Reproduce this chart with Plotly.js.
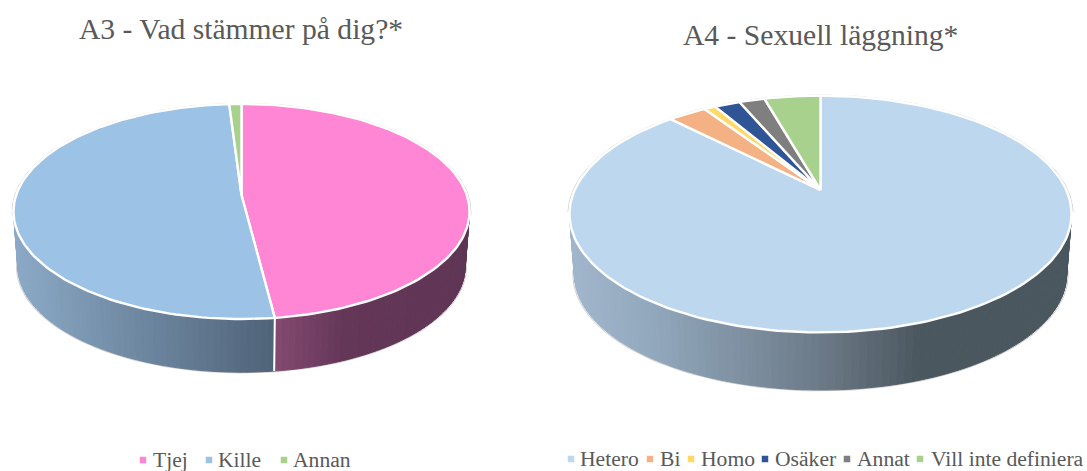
<!DOCTYPE html>
<html><head><meta charset="utf-8">
<script src="https://cdn.plot.ly/plotly-3.0.1.min.js"></script>
<style>html,body{margin:0;padding:0;background:#fff;overflow:hidden}#c{width:1087px;height:471px}</style>
</head><body><div id="c"></div>
<script>
// ---- data (percent, clockwise from 12 o'clock) ----
const a3Categories = ['Tjej','Kille','Annan'];
const a3Values     = [48, 51, 1];
const a3Colors     = ['#FF85D5','#9CC2E5','#A9D18E'];
const a4Categories = ['Hetero','Bi','Homo','Osäker','Annat','Vill inte definiera'];
const a4Values     = [87.7, 3.0, 0.9, 2.0, 2.0, 4.4];
const a4Colors     = ['#BDD7EE','#F4B183','#FFD966','#2F5597','#7F7F7F','#A9D18E'];
const a3Title = 'A3 - Vad stämmer på dig?*';
const a4Title = 'A4 - Sexuell läggning*';

// ---- layout / styling ----
const a3Top = {cx:241.5, y0:195,   a:225.3, b:105,   k:0.1535};
const a3Bot = {cx:241.5, y0:250.5, a:221,   b:103,   k:0.1535};
const a4Top = {cx:820.5, y0:190,   a:245.8, b:113.5, k:0.203};
const a4Bot = {cx:820.5, y0:251,   a:241,   b:110.8, k:0.203};
const a3Walls = {
  0:[[275,'#844a70'],[345,'#643658'],[470,'#5f3555']],
  1:[[14,'#8ba9c6'],[274,'#4f6378']]
};
const a4Walls = {
  0:[[570,'#a1b6cc'],[650,'#92a8bd'],[820,'#6c7a88'],[920,'#4b575f'],[1072,'#4b575f']]
};
const a3MarkerX = [143,209,284];
const a3TextX   = [153,218,293];
const a4MarkerX = [571,650,691,765,847,920];
const a4TextX   = [580,660,701,775,857,931];
const legendY = [460,459];
const serif = '"Liberation Serif","Times New Roman",serif';
const grey = '#595959';

function pt(g,t){const X=Math.sin(t),Y=Math.cos(t),w=1+g.k*Y;
  return [g.cx+g.a*X/w, g.y0-g.b*Y/w];}
function hex(c){return [1,3,5].map(i=>parseInt(c.substr(i,2),16));}
function colorAt(stops,x){
  if(x<=stops[0][0])return stops[0][1];
  for(let i=1;i<stops.length;i++){ if(x<=stops[i][0]){
    const f=(x-stops[i-1][0])/(stops[i][0]-stops[i-1][0]);
    const a=hex(stops[i-1][1]),b=hex(stops[i][1]);
    return 'rgb('+a.map((v,j)=>Math.round(v+(b[j]-v)*f)).join(',')+')';}}
  return stops[stops.length-1][1];
}
function arc(g,t0,t1,n){const o=[];for(let i=0;i<=n;i++)o.push(pt(g,t0+(t1-t0)*i/n));return o;}
function outlineEllipse(g,f,t0,t1){
  const G={cx:g.cx,y0:g.y0,a:g.a*f,b:g.b*f,k:g.k};
  const p=arc(G,t0,t1,180);
  return {type:'scatter',mode:'lines',x:p.map(q=>q[0]),y:p.map(q=>q[1]),
    line:{color:'#cfcfcf',width:1},hoverinfo:'skip',showlegend:false};
}
function pie(values,colors,cats,top,bot,walls){
  const out=[],tot=values.reduce((a,b)=>a+b,0);
  out.push(outlineEllipse(bot,1.006,0,2*Math.PI));
  let c=0;const spans=values.map(v=>{const s=[c/tot*2*Math.PI,(c+v)/tot*2*Math.PI];c+=v;return s;});
  spans.forEach((s,i)=>{
    if(!walls[i])return;
    const n=Math.max(4,Math.round((s[1]-s[0])/(Math.PI/120)));
    for(let j=0;j<n;j++){
      const t0=s[0]+(s[1]-s[0])*j/n,t1=s[0]+(s[1]-s[0])*(j+1)/n;
      if(Math.cos((t0+t1)/2)>0.25)continue;
      const A=pt(top,t0),B=pt(top,t1),C=pt(bot,t1),D=pt(bot,t0);
      const col=colorAt(walls[i],(A[0]+B[0])/2);
      out.push({type:'scatter',mode:'lines',fill:'toself',fillcolor:col,
        x:[A[0],B[0],C[0],D[0],A[0]],y:[A[1],B[1],C[1],D[1],A[1]],
        line:{color:col,width:1},hoverinfo:'skip',showlegend:false});
    }
  });
  spans.forEach(s=>{
    const t=s[0];
    if(Math.cos(t)<-0.3){const A=pt(top,t),D=pt(bot,t);
      out.push({type:'scatter',mode:'lines',x:[A[0],D[0]],y:[A[1],D[1]],
        line:{color:'#fff',width:2},hoverinfo:'skip',showlegend:false});}
  });
  out.push(outlineEllipse(top,1.006,-Math.PI*0.56,Math.PI*0.56));
  spans.forEach((s,i)=>{
    const p=[[top.cx,top.y0]].concat(arc(top,s[0],s[1],Math.max(6,Math.round((s[1]-s[0])*40))));
    p.push([top.cx,top.y0]);
    out.push({type:'scatter',mode:'lines',fill:'toself',fillcolor:colors[i],
      x:p.map(q=>q[0]),y:p.map(q=>q[1]),name:cats[i],
      line:{color:'#fff',width:2.4},hoverinfo:'name',showlegend:false});
  });
  return out;
}
function legendMarks(colors,xs,y){
  return {type:'scatter',mode:'markers',x:xs,y:xs.map(()=>y),
    marker:{symbol:'square',size:6.5,color:colors},hoverinfo:'skip',showlegend:false,cliponaxis:false};
}
function legendTexts(cats,xs,y){
  return cats.map((t,i)=>({text:t,x:xs[i],y:y,xref:'x',yref:'y',xanchor:'left',yanchor:'middle',xshift:-2,showarrow:false,
    font:{family:serif,size:21.6,color:grey}}));
}
const traces=[].concat(
  pie(a3Values,a3Colors,a3Categories,a3Top,a3Bot,a3Walls),
  pie(a4Values,a4Colors,a4Categories,a4Top,a4Bot,a4Walls),
  [legendMarks(a3Colors,a3MarkerX,legendY[0]),legendMarks(a4Colors,a4MarkerX,legendY[1])]
);
Plotly.newPlot('c',traces,{
  width:1087,height:471,margin:{l:0,r:0,t:0,b:0},paper_bgcolor:'#fff',plot_bgcolor:'#fff',showlegend:false,
  xaxis:{range:[0,1087],visible:false,fixedrange:true},
  yaxis:{range:[471,0],visible:false,fixedrange:true},
  annotations:[
    {text:a3Title,x:241,y:29,xref:'x',yref:'y',showarrow:false,font:{family:serif,size:29.6,color:grey}},
    {text:a4Title,x:820,y:34.5,xref:'x',yref:'y',showarrow:false,font:{family:serif,size:29.6,color:grey}}
  ].concat(legendTexts(a3Categories,a3TextX,legendY[0]),legendTexts(a4Categories,a4TextX,legendY[1]))
},{displayModeBar:false,responsive:false});
</script></body></html>
